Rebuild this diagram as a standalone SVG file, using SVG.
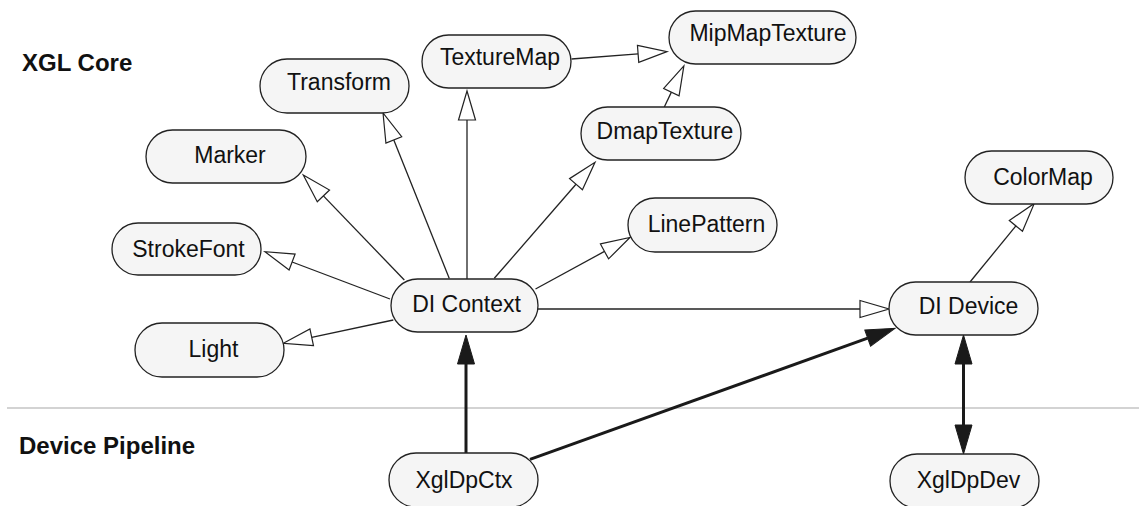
<svg xmlns="http://www.w3.org/2000/svg" width="1139" height="506" viewBox="0 0 1139 506">
<style>
.node rect{fill:#f5f5f5;stroke:#222;stroke-width:1.3}
.node text{font-family:"Liberation Sans",Arial,sans-serif;font-size:23px;fill:#111;text-anchor:middle}
.hdr{font-family:"Liberation Sans",Arial,sans-serif;font-size:24px;font-weight:bold;fill:#111}
.thin{stroke:#222;stroke-width:1.3;fill:none;marker-end:url(#hollow)}
.thick{stroke:#1a1a1a;stroke-width:3;fill:none;marker-end:url(#solid)}
</style>
<defs>
<marker id="hollow" markerUnits="userSpaceOnUse" viewBox="-2 -10 34 20" refX="0" refY="0" markerWidth="34" markerHeight="20" orient="auto" overflow="visible">
<path d="M0,-8.5 L29,0 L0,8.5 Z" fill="#fff" stroke="#222" stroke-width="1.2"/>
</marker>
<marker id="solid" markerUnits="userSpaceOnUse" viewBox="-2 -10 34 20" refX="0" refY="0" markerWidth="34" markerHeight="20" orient="auto-start-reverse" overflow="visible">
<path d="M0,-8.5 L29,0 L0,8.5 Z" fill="#1a1a1a" stroke="#1a1a1a" stroke-width="1"/>
</marker>
</defs>
<rect x="0" y="0" width="1139" height="506" fill="#fff"/>
<line x1="7" y1="408" x2="1139" y2="408" stroke="#c4c4c4" stroke-width="1.5"/>
<text class="hdr" x="22" y="71">XGL Core</text>
<text class="hdr" x="19" y="454">Device Pipeline</text>
<g id="connectors">
<line class="thin" x1="467" y1="279" x2="467" y2="120"/>
<line class="thin" x1="449.3" y1="278.5" x2="393.8" y2="139.9"/>
<line class="thin" x1="404.3" y1="280" x2="323.4" y2="195.9"/>
<line class="thin" x1="390" y1="299" x2="292.1" y2="262"/>
<line class="thin" x1="393.3" y1="320" x2="311.7" y2="337.3"/>
<line class="thin" x1="494.3" y1="278.3" x2="576" y2="184.2"/>
<line class="thin" x1="535.5" y1="289" x2="604.5" y2="251.4"/>
<line class="thin" x1="538" y1="309" x2="860" y2="309"/>
<line class="thin" x1="970" y1="282" x2="1015.9" y2="225.9"/>
<line class="thin" x1="571.5" y1="59" x2="638.1" y2="53.9"/>
<line class="thin" x1="664.3" y1="107" x2="671.4" y2="92.1"/>
<line class="thick" x1="466" y1="453" x2="466" y2="364"/>
<line class="thick" x1="530" y1="459.3" x2="867.7" y2="338.1"/>
<line class="thick" x1="963.5" y1="364" x2="963.5" y2="425" style="marker-start:url(#solid)"/>
</g>
<g id="Transform" class="node"><rect x="260" y="59" width="149" height="54" rx="27"/><text x="339" y="90">Transform</text></g>
<g id="TextureMap" class="node"><rect x="422" y="35" width="149" height="53" rx="26.5"/><text x="500" y="65">TextureMap</text></g>
<g id="MipMapTexture" class="node"><rect x="669" y="11" width="187" height="53" rx="26.5"/><text x="768" y="41">MipMapTexture</text></g>
<g id="DmapTexture" class="node"><rect x="581" y="107" width="160" height="53" rx="26.5"/><text x="665" y="138.5">DmapTexture</text></g>
<g id="Marker" class="node"><rect x="146" y="130" width="160" height="53" rx="26.5"/><text x="230" y="163">Marker</text></g>
<g id="StrokeFont" class="node"><rect x="112" y="223" width="149" height="52" rx="26"/><text x="188.5" y="257">StrokeFont</text></g>
<g id="LinePattern" class="node"><rect x="628" y="198" width="149" height="54" rx="27"/><text x="706.5" y="231.5">LinePattern</text></g>
<g id="ColorMap" class="node"><rect x="965" y="151" width="148" height="53" rx="26.5"/><text x="1043" y="184.5">ColorMap</text></g>
<g id="Light" class="node"><rect x="135" y="323" width="149" height="54" rx="27"/><text x="213.5" y="356.5">Light</text></g>
<g id="DIContext" class="node"><rect x="391" y="279" width="147" height="53" rx="26.5"/><text x="466.5" y="311.5">DI Context</text></g>
<g id="DIDevice" class="node"><rect x="889" y="282" width="149" height="53" rx="26.5"/><text x="968.5" y="314">DI Device</text></g>
<g id="XglDpCtx" class="node"><rect x="389" y="453" width="149" height="54" rx="27"/><text x="464" y="488">XglDpCtx</text></g>
<g id="XglDpDev" class="node"><rect x="890" y="454" width="149" height="54" rx="27"/><text x="968.5" y="487.5">XglDpDev</text></g>
</svg>
